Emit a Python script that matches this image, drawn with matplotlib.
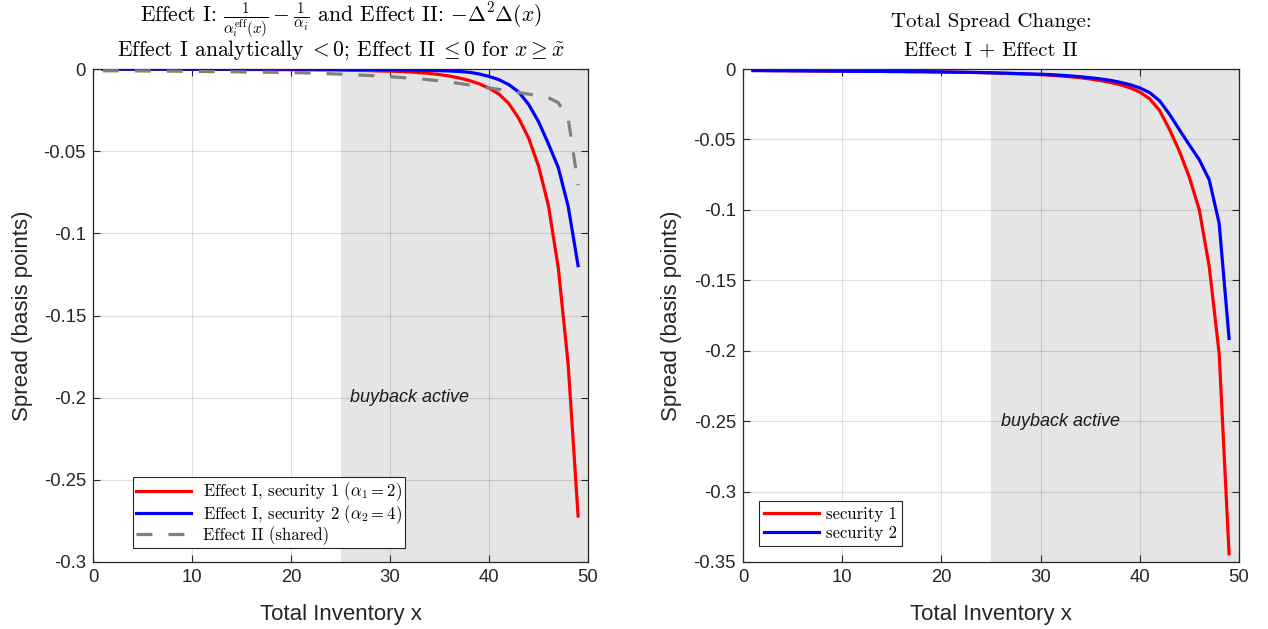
import matplotlib
matplotlib.use("Agg")
import matplotlib.pyplot as plt
import numpy as np

# ---------------- data ----------------
x = list(range(1, 50))
x_tilde = 25

eff1_sec1 = [-0.0001, -0.0001, -0.0001, -0.0001, -0.0001, -0.0001, -0.0001, -0.0001, -0.0002, -0.0002,
             -0.0002, -0.0002, -0.0002, -0.0002, -0.0003, -0.0003, -0.0003, -0.0003, -0.0004, -0.0004,
             -0.0005, -0.0005, -0.0006, -0.0006, -0.0007, -0.0008, -0.0009, -0.0010, -0.0012, -0.0013,
             -0.0015, -0.0018, -0.0022, -0.0027, -0.0034, -0.0043, -0.0055, -0.0070, -0.0090, -0.0116,
             -0.0152, -0.0210, -0.0300, -0.0420, -0.0590, -0.0830, -0.1210, -0.1800, -0.2720]

eff1_sec2 = [-0.0001, -0.0001, -0.0001, -0.0001, -0.0001, -0.0001, -0.0001, -0.0001, -0.0001, -0.0001,
             -0.0001, -0.0001, -0.0001, -0.0001, -0.0001, -0.0001, -0.0001, -0.0001, -0.0001, -0.0001,
             -0.0001, -0.0001, -0.0002, -0.0002, -0.0002, -0.0003, -0.0003, -0.0003, -0.0004, -0.0004,
             -0.0005, -0.0006, -0.0007, -0.0008, -0.0010, -0.0012, -0.0015, -0.0020, -0.0030, -0.0045,
             -0.0065, -0.0095, -0.0140, -0.0215, -0.0320, -0.0455, -0.0600, -0.0836, -0.1197]

eff2 = [-0.0011, -0.0011, -0.0011, -0.0011, -0.0012, -0.0012, -0.0013, -0.0013, -0.0014, -0.0015,
        -0.0015, -0.0016, -0.0017, -0.0017, -0.0018, -0.0019, -0.0019, -0.0020, -0.0021, -0.0022,
        -0.0023, -0.0025, -0.0027, -0.0029, -0.0031, -0.0034, -0.0037, -0.0040, -0.0043, -0.0047,
        -0.0051, -0.0055, -0.0060, -0.0066, -0.0072, -0.0080, -0.0088, -0.0097, -0.0106, -0.0115,
        -0.0124, -0.0133, -0.0143, -0.0153, -0.0163, -0.0175, -0.0205, -0.0300, -0.0706]

total_sec1 = [-0.0011, -0.0011, -0.0012, -0.0012, -0.0013, -0.0013, -0.0014, -0.0014, -0.0015, -0.0015,
              -0.0016, -0.0016, -0.0017, -0.0017, -0.0018, -0.0018, -0.0019, -0.0019, -0.0020, -0.0021,
              -0.0022, -0.0023, -0.0024, -0.0026, -0.0028, -0.0030, -0.0032, -0.0034, -0.0037, -0.0040,
              -0.0044, -0.0049, -0.0055, -0.0062, -0.0071, -0.0082, -0.0095, -0.0111, -0.0133, -0.0163,
              -0.0212, -0.0295, -0.0430, -0.0585, -0.0770, -0.1000, -0.1403, -0.2019, -0.3442]

total_sec2 = [-0.0011, -0.0011, -0.0012, -0.0012, -0.0013, -0.0013, -0.0014, -0.0014, -0.0015, -0.0015,
              -0.0016, -0.0016, -0.0017, -0.0017, -0.0018, -0.0018, -0.0019, -0.0019, -0.0020, -0.0021,
              -0.0022, -0.0023, -0.0024, -0.0025, -0.0027, -0.0029, -0.0031, -0.0033, -0.0035, -0.0037,
              -0.0040, -0.0044, -0.0049, -0.0055, -0.0062, -0.0070, -0.0080, -0.0094, -0.0111, -0.0134,
              -0.0168, -0.0226, -0.0322, -0.0432, -0.0540, -0.0644, -0.0787, -0.1095, -0.1913]

x_ticks = [0, 10, 20, 30, 40, 50]
y_ticks_left = [0, -0.05, -0.1, -0.15, -0.2, -0.25, -0.3]
y_tick_labels_left = ["0", "-0.05", "-0.1", "-0.15", "-0.2", "-0.25", "-0.3"]
y_ticks_right = [0, -0.05, -0.1, -0.15, -0.2, -0.25, -0.3, -0.35]
y_tick_labels_right = ["0", "-0.05", "-0.1", "-0.15", "-0.2", "-0.25", "-0.3", "-0.35"]

# ---------------- style ----------------
plt.rcParams['font.family'] = ['Liberation Sans', 'DejaVu Sans']
plt.rcParams['mathtext.fontset'] = 'cm'
AXC = (0.15, 0.15, 0.15)
SERIF = 'cmr10'

fig = plt.figure(figsize=(12.68, 6.29), dpi=100)
W, H = 1268, 629


def make_ax(l, r, t, b):
    return fig.add_axes([l / W, 1 - b / H, (r - l) / W, (b - t) / H])


def style(ax, yticks, ylabels, ylim):
    ax.axvspan(x_tilde, 50, color=(0.898, 0.898, 0.898), lw=0, zorder=1)
    ax.set_xlim(0, 50)
    ax.set_ylim(ylim, 0)
    ax.set_xticks(x_ticks)
    ax.set_xticklabels([str(t) for t in x_ticks])
    ax.set_yticks(yticks)
    ax.set_yticklabels(ylabels)
    ax.set_axisbelow('line')
    ax.grid(True, color=(0.15, 0.15, 0.15), alpha=0.15, lw=0.8)
    ax.tick_params(direction='in', top=True, right=True, length=5, width=0.8,
                   colors=AXC, labelsize=13.3, labelcolor=AXC, pad=5)
    for s in ax.spines.values():
        s.set_color(AXC)
        s.set_linewidth(0.9)
    ax.set_xlabel("Total Inventory x", fontsize=16, color=AXC)
    ax.set_ylabel("Spread (basis points)", fontsize=16, color=AXC)
    ax.xaxis.set_label_coords(0.5, -0.086)
    ax.yaxis.set_label_coords(-0.122, 0.5)


def title_lines(ax, lines, baselines, fs):
    bb = ax.get_position()
    cx = (bb.x0 + bb.x1) / 2
    for txt, yb in zip(lines, baselines):
        fig.text(cx, 1 - yb / H, txt, ha='center', va='baseline', fontsize=fs,
                 family=SERIF, color='black')


# Left
ax1 = make_ax(93, 588, 69, 562)
style(ax1, y_ticks_left, y_tick_labels_left, -0.3)
ax1.plot(x, eff1_sec1, color='red', lw=2.3, zorder=3,
         label=r"Effect I, security 1 ($\alpha_1 = 2$)")
ax1.plot(x, eff1_sec2, color='blue', lw=2.3, zorder=3,
         label=r"Effect I, security 2 ($\alpha_2 = 4$)")
ax1.plot(x, eff2, color=(0.5, 0.5, 0.5), lw=2.3, ls=(0, (5, 5)), zorder=3,
         label="Effect II (shared)")
ax1.text(26, -0.2, "buyback active", fontsize=13, style='italic', color=(0.1, 0.1, 0.1),
         va='center', ha='left', zorder=4)
title_lines(ax1,
            ["Effect I: $\\frac{1}{\\alpha_i^{\\mathrm{eff}}(x)} - \\frac{1}{\\alpha_i}$ and Effect II: $-\\Delta^2\\Delta(x)$",
             "Effect I analytically$\\;<0$; Effect II$\\;\\leq0$ for $x \\geq \\tilde{x}$"],
            [22, 56], 15.5)
leg1 = ax1.legend(loc='lower left', bbox_to_anchor=(0.081, 0.028), borderaxespad=0,
                  prop={'family': SERIF, 'size': 12}, handlelength=3.3, fancybox=False,
                  framealpha=1, edgecolor=AXC, borderpad=0.2, labelspacing=0.0, handletextpad=0.7)
leg1.get_frame().set_linewidth(0.8)

# Right
ax2 = make_ax(743, 1239, 69, 562)
style(ax2, y_ticks_right, y_tick_labels_right, -0.35)
ax2.plot(x, total_sec1, color='red', lw=2.3, zorder=3, label="security 1")
ax2.plot(x, total_sec2, color='blue', lw=2.3, zorder=3, label="security 2")
ax2.text(26, -0.25, "buyback active", fontsize=13, style='italic', color=(0.1, 0.1, 0.1),
         va='center', ha='left', zorder=4)
title_lines(ax2, ["Total Spread Change:", "Effect I + Effect II"], [27, 56], 15)
leg2 = ax2.legend(loc='lower left', bbox_to_anchor=(0.032, 0.032), borderaxespad=0,
                  prop={'family': SERIF, 'size': 12}, handlelength=3.3, fancybox=False,
                  framealpha=1, edgecolor=AXC, borderpad=0.3, labelspacing=0.25, handletextpad=0.4)
leg2.get_frame().set_linewidth(0.8)

fig.savefig("out.png", dpi=100)
